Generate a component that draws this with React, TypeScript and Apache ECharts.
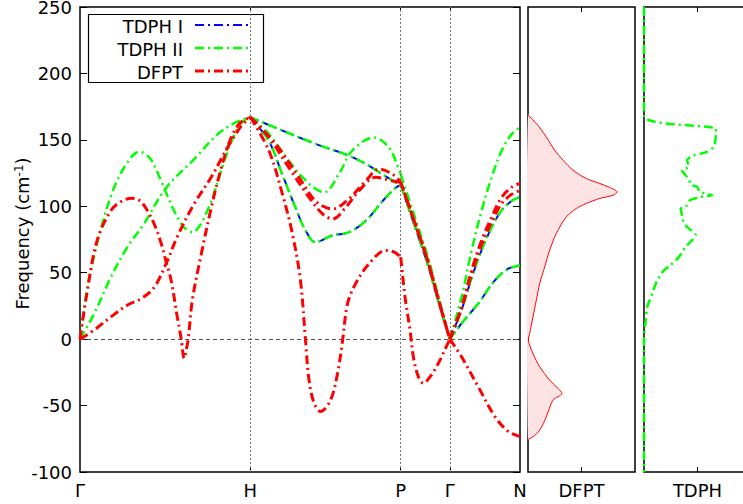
import React, { useEffect, useRef } from 'react';
import * as echarts from 'echarts';

// k-path high-symmetry points
const kTicks = [0, 170, 320, 369, 439];
const kLabels = ['Γ', 'H', 'P', 'Γ', 'N'];
const innerK = [170, 320, 369];

// ---------- TDPH II (green) branches: [k, frequency cm-1] ----------
const tdph2GH1 = [[0, 0], [7.3, 39], [14, 62], [22.3, 87], [34, 114], [47.3, 133], [59, 141], [70, 136], [81, 119], [90, 103], [97, 92], [104, 84], [112, 80.5], [120, 86], [131, 104], [144, 134], [154, 154], [162, 163.5], [170, 167]];
const tdph2GH2 = [[0, 0], [14, 19], [31, 47], [47, 69], [64, 87], [86, 114], [114, 135.5], [137, 154], [155, 163], [170, 167]];
const tdph2HPtop = [[170, 167], [202, 157], [235, 147], [268.5, 138], [285, 132], [302, 124], [317, 117], [320, 116]];
const tdph2HPpeak = [[170, 167], [188.5, 154.5], [208.5, 134], [228.5, 117], [243.5, 110.5], [258.5, 124.5], [271.5, 141.8], [293.5, 151.8], [308.5, 144], [316, 132], [320, 124]];
const tdph2HPlow = [[170, 167], [188.5, 149], [201.5, 124.5], [215, 99], [225, 81.8], [235, 73], [251.5, 78], [268.5, 80.5], [285, 89], [302, 104], [315, 114], [320, 116]];
const tdph2PGouter = [[320, 124], [334, 92], [347, 62], [358, 31], [369, 0]];
const tdph2PGinner = [[320, 116], [334, 85], [347, 56], [358, 27], [369, 0]];
const tdph2GNtop = [[369, 0], [380.7, 31.7], [390.7, 66.8], [400.7, 96.8], [410.7, 121.8], [420.7, 141.8], [430.7, 154.3], [439, 159.3]];
const tdph2GNmid = [[369, 0], [380.7, 22], [390.7, 46], [400.7, 67], [410.7, 84], [420.7, 97], [430.7, 104], [439, 107]];
const tdph2GNlow = [[369, 0], [380.7, 11.8], [397.3, 26.8], [414, 44.3], [427.3, 53], [439, 55.5]];

// ---------- TDPH I (blue) branches (visible where they coincide with TDPH II) ----------
const tdph1HPtop = [[170, 167], [202, 157], [235, 147], [268.5, 138], [285, 132], [302, 124], [317, 117], [320, 116]];
const tdph1HPlow = [[170, 167], [188.5, 149], [201.5, 124.5], [215, 99], [225, 81.8], [235, 73], [251.5, 78], [268.5, 80.5], [285, 89], [302, 104], [315, 114], [320, 116]];
const tdph1PG = [[320, 116], [334, 85], [347, 56], [358, 27], [369, 0]];
const tdph1GNmid = [[369, 0], [380.7, 22], [390.7, 46], [400.7, 67], [410.7, 84], [420.7, 97], [430.7, 104], [439, 107]];
const tdph1GNlow = [[369, 0], [380.7, 11.8], [397.3, 26.8], [414, 44.3], [427.3, 53], [439, 55.5]];

// ---------- DFPT (red) branches ----------
const dfptGH1 = [[0, 0], [7, 35], [17, 74], [31, 97], [42, 104], [52, 106], [60, 104], [67, 97], [75, 85], [81, 72], [86, 58], [91, 44], [97, 17], [101, 0], [104, -14.5], [106, -8], [108, 0], [112, 29], [121, 64], [131, 99], [141, 129], [151, 152], [160, 163], [170, 167]];
const dfptGH2 = [[0, 0], [14, 6.8], [31, 16.8], [47, 25.5], [61, 30.5], [74, 39], [86, 57], [97, 77], [114, 102], [131, 122], [147, 144], [161, 160.5], [170, 167]];
const dfptHPa = [[170, 167], [195, 147], [218.5, 121.8], [235, 104], [252, 98], [268.5, 105.8], [285, 119], [298.5, 128], [312, 124], [320, 118]];
const dfptHPb = [[170, 167], [188.5, 151.8], [208.5, 129], [228.5, 106.8], [242, 94.3], [252, 90.5], [265, 99], [278.5, 111.8], [295, 121.8], [312, 119], [320, 118]];
const dfptHPsoft = [[170, 167], [188.5, 141.8], [202, 109], [212, 79], [220, 44], [225, -0.8], [228.5, -30.8], [233.5, -48], [240, -54.5], [250, -45.8], [257, -25.6], [262, -0.8], [267, 26.8], [275, 41.8], [288.5, 56.8], [305, 66.8], [313.5, 65.5], [320, 61.7]];
const dfptPGsoft = [[320, 61.7], [324.3, 31.7], [329.3, 6.8], [332.6, -13.3], [337.6, -28.3], [342.6, -33.2], [349.3, -28.3], [354, -23], [359.2, -15.8], [364, -8], [369, 0]];
const dfptPG1 = [[320, 118], [334, 88], [347, 59], [358, 29], [369, 0]];
const dfptPG2 = [[320, 118], [334, 87.5], [347, 58.5], [358, 28.7], [369, 0]];
const dfptGNtop = [[369, 0], [380.7, 24.3], [390.7, 51.8], [400.7, 74.3], [410.7, 91.8], [420.7, 106.8], [430.7, 114.3], [439, 117.3]];
const dfptGNmid = [[369, 0], [380.7, 23], [390.7, 49], [400.7, 71], [410.7, 88], [420.7, 102], [430.7, 109], [439, 112]];
const dfptGNsoft = [[369, 0], [380.7, -13.3], [397.3, -35.8], [414, -58.3], [427.3, -69.5], [439, -73.3]];

// ---------- Density of states: [DOS (arb.), frequency] ----------
const dfptDos = [[0, 168.5], [8.4, 162.3], [18.3, 152.2], [26.7, 142.2], [35, 134.7], [45, 127.2], [58.3, 120.9], [71.7, 117.2], [81.7, 114.2], [89, 110.8], [85, 108.3], [71.7, 105.9], [58.3, 102.1], [48.3, 98.3], [38.3, 92], [28.3, 79.5], [21.7, 67], [16.7, 54.4], [11.7, 41.9], [8.3, 29.3], [5, 16.8], [1.7, 4.3], [0.3, 0], [5, -10.8], [11.7, -20.8], [21.7, -30.8], [30, -37.1], [34, -40.9], [25, -45.9], [18.3, -58.5], [11.7, -68.5], [5, -73.5], [0, -75.5]];
const tdphDos = [[0, 250], [0, 168], [71, 159], [72, 155], [70, 145], [63, 141], [50, 138.4], [43, 134.7], [45, 129.7], [38, 127.2], [43, 122.1], [48, 115.9], [53, 114.6], [56, 110.8], [68, 108.4], [56, 107.1], [46, 104.6], [43, 100.8], [36.7, 98.3], [38.3, 92], [40, 87], [46.7, 82], [51.7, 78.3], [48.3, 74.5], [41.7, 69.5], [35, 61.9], [26.7, 55.7], [20, 51.9], [13.3, 44.4], [8.3, 34.4], [3.3, 24.3], [1.7, 14.3], [0.3, 4.3], [0, 0], [0, -100]];

const dosMax = 107;
const dosTick = 53.5;

const BLUE = '#0000ff';
const GREEN = '#00ff00';
const RED = '#ff0000';
const DASH = [9, 4, 2, 4];
const FONT = 'DejaVu Sans';

function band(data: number[][], color: string, width: number, z: number, offset = 0) {
  return {
    type: 'line',
    xAxisIndex: 0,
    yAxisIndex: 0,
    data,
    smooth: 0.35,
    symbol: 'none',
    showSymbol: false,
    silent: true,
    z,
    lineStyle: { color, width, type: DASH, dashOffset: offset },
  };
}

export default function App() {
  const ref = useRef<HTMLDivElement>(null);
  useEffect(() => {
    if (!ref.current) return;
    const chart = echarts.init(ref.current, undefined, { renderer: 'svg' });
    const labelMap: Record<number, string> = {};
    kTicks.forEach((k, i) => (labelMap[k] = kLabels[i]));

    const blue = [tdph1HPtop, tdph1HPlow, tdph1PG, tdph1GNmid, tdph1GNlow].map((d) => band(d, BLUE, 2, 3, 6));
    const green = [tdph2GH1, tdph2GH2, tdph2HPtop, tdph2HPpeak, tdph2HPlow, tdph2PGouter, tdph2PGinner, tdph2GNtop, tdph2GNmid, tdph2GNlow].map((d) => band(d, GREEN, 2.5, 4));
    const red = [dfptGH1, dfptGH2, dfptHPa, dfptHPb, dfptHPsoft, dfptPGsoft, dfptGNtop, dfptGNmid, dfptGNsoft].map((d) => band(d, RED, 3, 5));
    red.push(band(dfptPG1, RED, 3, 5), band(dfptPG2, RED, 3, 5, 8));

    const markSeries = {
      type: 'line',
      xAxisIndex: 0,
      yAxisIndex: 0,
      data: [] as number[][],
      silent: true,
      z: 1,
      markLine: {
        silent: true,
        symbol: ['none', 'none'],
        label: { show: false },
        animation: false,
        data: [
          ...innerK.map((k) => ({ xAxis: k, lineStyle: { color: '#777', width: 1, type: [2, 2] } })),
          { yAxis: 0, lineStyle: { color: '#555', width: 1, type: [4, 3] } },
        ],
      },
    };

    const yBase = { type: 'value', min: -100, max: 250, interval: 50, splitLine: { show: false } };
    const noLine = { show: false, onZero: false };
    const xHidden = (gridIndex: number, max: number, ticks: number[]) => ({
      type: 'value', gridIndex, min: 0, max, position: 'top',
      axisLine: noLine, axisLabel: { show: false }, splitLine: { show: false },
      axisTick: { show: true, inside: true, length: 5, customValues: ticks, lineStyle: { color: '#000' } },
    });
    const gridBase = { top: 7, height: 465, show: true, borderColor: '#000', borderWidth: 1.5, backgroundColor: 'transparent', containLabel: false, outerBoundsMode: 'none' };

    chart.setOption({
      animation: false,
      textStyle: { fontFamily: FONT },
      grid: [
        { ...gridBase, left: 80, width: 440 },
        { ...gridBase, left: 528, width: 107 },
        { ...gridBase, left: 644, width: 107 },
      ],
      xAxis: [
        {
          type: 'value', gridIndex: 0, min: 0, max: 439, position: 'bottom',
          axisLine: noLine, splitLine: { show: false },
          axisTick: { show: true, inside: true, length: 5, customValues: innerK, lineStyle: { color: '#000' } },
          axisLabel: { customValues: kTicks, formatter: (v: number) => labelMap[v] ?? '', fontSize: 18, color: '#000', margin: 9, fontFamily: FONT },
        },
        xHidden(0, 439, innerK),
        {
          type: 'value', gridIndex: 1, min: 0, max: dosMax, position: 'bottom',
          axisLine: noLine, splitLine: { show: false },
          axisTick: { show: true, inside: true, length: 5, customValues: [dosTick], lineStyle: { color: '#000' } },
          axisLabel: { customValues: [dosTick], formatter: () => 'DFPT', fontSize: 18, color: '#000', margin: 9, fontFamily: FONT },
        },
        xHidden(1, dosMax, [dosTick]),
        {
          type: 'value', gridIndex: 2, min: 0, max: dosMax, position: 'bottom',
          axisLine: noLine, splitLine: { show: false },
          axisTick: { show: true, inside: true, length: 5, customValues: [dosTick], lineStyle: { color: '#000' } },
          axisLabel: { customValues: [dosTick], formatter: () => 'TDPH', fontSize: 18, color: '#000', margin: 9, fontFamily: FONT },
        },
        xHidden(2, dosMax, [dosTick]),
      ],
      yAxis: [
        {
          ...yBase, gridIndex: 0, position: 'left',
          axisLine: noLine,
          axisTick: { show: true, inside: true, length: 7, lineStyle: { color: '#000' } },
          axisLabel: { fontSize: 18, color: '#000', margin: 8, fontFamily: FONT },
          name: 'Frequency (cm{sup|-1})',
          nameLocation: 'middle',
          nameRotate: 90,
          nameGap: 49,
          nameMoveOverlap: false,
          nameTextStyle: {
            fontSize: 18, color: '#000', fontFamily: FONT, padding: [0, 0, 0, 12],
            rich: { sup: { fontSize: 12, verticalAlign: 'top', color: '#000', fontFamily: FONT } },
          },
        },
        {
          ...yBase, gridIndex: 0, position: 'right',
          axisLine: noLine, axisLabel: { show: false },
          axisTick: { show: true, inside: true, length: 7, lineStyle: { color: '#000' } },
        },
        { ...yBase, gridIndex: 1, axisLine: noLine, axisLabel: { show: false }, axisTick: { show: false } },
        { ...yBase, gridIndex: 2, axisLine: noLine, axisLabel: { show: false }, axisTick: { show: false } },
      ],
      series: [
        markSeries,
        ...blue,
        ...green,
        ...red,
        {
          type: 'custom',
          xAxisIndex: 2,
          yAxisIndex: 2,
          silent: true,
          z: 2,
          data: dfptDos,
          renderItem: (params: any, api: any) => {
            if (params.dataIndex !== 0) return null;
            const pts = dfptDos.map((p) => api.coord(p));
            return { type: 'polygon', shape: { points: pts, smooth: 0.3 }, style: { fill: '#fde3e3', stroke: 'none' } };
          },
        },
        {
          type: 'line', xAxisIndex: 2, yAxisIndex: 2, data: dfptDos, smooth: 0.3, symbol: 'none', silent: true, z: 3,
          lineStyle: { color: RED, width: 1 },
        },
        {
          type: 'line', xAxisIndex: 4, yAxisIndex: 3, data: tdphDos, smooth: 0.2, symbol: 'none', silent: true, z: 3, clip: false,
          lineStyle: { color: GREEN, width: 2.5, type: DASH },
        },
      ],
      graphic: [
        {
          type: 'group',
          z: 100,
          children: [
            { type: 'rect', shape: { x: 88.5, y: 14.5, width: 175, height: 68 }, style: { fill: '#fff', stroke: '#000', lineWidth: 1.2 } },
            { type: 'text', x: 183, y: 26, style: { text: 'TDPH I', fontSize: 18, fontFamily: FONT, fill: '#000', align: 'right', verticalAlign: 'middle' } },
            { type: 'text', x: 183, y: 49, style: { text: 'TDPH II', fontSize: 18, fontFamily: FONT, fill: '#000', align: 'right', verticalAlign: 'middle' } },
            { type: 'text', x: 183, y: 72, style: { text: 'DFPT', fontSize: 18, fontFamily: FONT, fill: '#000', align: 'right', verticalAlign: 'middle' } },
            { type: 'line', shape: { x1: 195, y1: 25, x2: 250, y2: 25 }, style: { stroke: BLUE, lineWidth: 2, lineDash: DASH } },
            { type: 'line', shape: { x1: 195, y1: 48, x2: 250, y2: 48 }, style: { stroke: GREEN, lineWidth: 2.5, lineDash: DASH } },
            { type: 'line', shape: { x1: 195, y1: 71, x2: 250, y2: 71 }, style: { stroke: RED, lineWidth: 3, lineDash: DASH } },
          ],
        },
      ],
    });
    return () => chart.dispose();
  }, []);
  return <div ref={ref} style={{ position: 'absolute', left: 0, top: 0, width: 743, height: 504 }} />;
}
